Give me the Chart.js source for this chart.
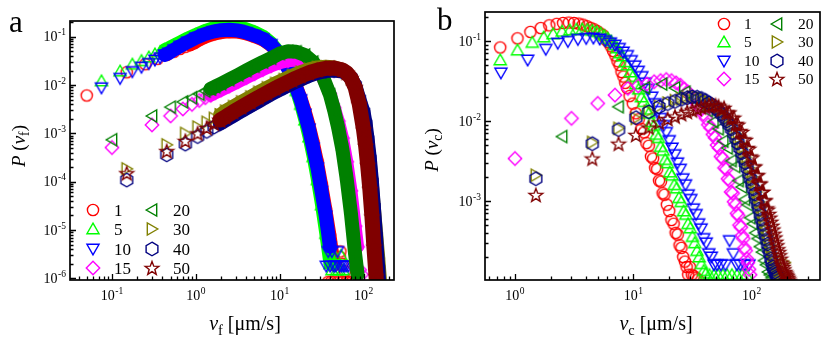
<!DOCTYPE html>
<html>
<head>
<meta charset="utf-8">
<script src="https://cdn.jsdelivr.net/npm/chart.js@4"></script>
<style>
  body { margin: 0; background: #fff; }
  #wrap { position: relative; width: 830px; height: 340px; font-family: "Liberation Serif", "Times New Roman", serif; color: #000; }
  canvas.panel { position: absolute; top: 0; }
  .txt { position: absolute; white-space: nowrap; line-height: 1; }
  .letter { font-size: 31px; }
  .ytitle { font-size: 19px; transform: translate(-50%, -50%) rotate(-90deg); }
  .xtitle { font-size: 20px; transform: translate(-50%, -50%); }
  sub { font-size: 72%; vertical-align: -0.32em; line-height: 0; }
  .lt { position: absolute; line-height: 1; transform: translateY(-50%); }
  .lm { position: absolute; }
</style>
</head>
<body>
<div id="wrap">
  <canvas id="chartA" class="panel" width="415" height="340" style="left:0"></canvas>
  <canvas id="chartB" class="panel" width="415" height="340" style="left:415px"></canvas>
  <div class="txt letter" style="left:9px;top:6px">a</div>
  <div class="txt letter" style="left:437px;top:4px">b</div>
  <div class="txt ytitle" style="left:18px;top:146px"><i>P</i> (<i>v</i><sub>f</sub>)</div>
  <div class="txt ytitle" style="left:431px;top:150px"><i>P</i> (<i>v</i><sub>c</sub>)</div>
  <div class="txt xtitle" style="left:245px;top:323px"><i>v</i><sub>f</sub> [μm/s]</div>
  <div class="txt xtitle" style="left:656px;top:323px"><i>v</i><sub>c</sub> [μm/s]</div>
  <div id="legA"></div>
  <div id="legB"></div>
</div>
<script>
// categories (legend labels)
const labels = ["1", "5", "10", "15", "20", "30", "40", "50"];

// tick label exponents
const expAx = [-1, 0, 1, 2];
const expAy = [-6, -5, -4, -3, -2, -1];
const expBx = [0, 1, 2];
const expBy = [-3, -2, -1];

// ---- panel a : P(v_f) ----
const vfR = [0.05, 0.15, 0.25, 0.35, 0.45, 0.55, 0.65, 0.75, 0.85, 0.95, 1.1, 1.25, 1.6, 2.0, 2.5, 3.2, 4.0, 5.0, 6.3, 7.9,
  10, 11.2, 12.6, 14.1, 15.8, 17.8, 20, 22.4, 25.1, 28.2, 31.6, 35.5, 39.8, 44.7];
const pf1 = [0.0061, 0.0184, 0.027, 0.035, 0.042, 0.049, 0.056, 0.062, 0.068, 0.074, 0.086, 0.096, 0.112, 0.122, 0.127,
  0.125, 0.115, 0.101, 0.086, 0.066, 0.043, 0.032, 0.0225, 0.015, 0.0095, 0.0056, 0.0030, 0.0015, 0.00066, 0.00026,
  0.000088, 0.000027, 0.0000078, 0.0000019];
const vfTail1 = [38, 41, 44, 47, 50, 52, 53, 56, 57, 60, 62, 67, 73, 80];
const pfTail1 = [8.5e-7, 8.5e-7, 8.5e-7, 2.0e-6, 8.5e-7, 2.8e-6, 3.6e-6, 2.0e-6, 8.5e-7, 1.4e-6, 8.5e-7, 8.5e-7, 8.5e-7, 8.5e-7];

const vfA = [0.075, 0.125, 0.175, 0.225, 0.275, 0.325, 0.375, 0.425, 0.475, 0.55, 0.65, 0.8, 1.0, 1.25, 1.6, 2.0, 2.5, 3.2,
  4.0, 5.0, 6.3, 7.9, 10, 11.2, 12.6, 14.1, 15.8, 17.8, 20, 22.4, 25.1, 28.2, 31.6, 35.5, 39.8];
const pf5 = [0.0122, 0.0195, 0.027, 0.032, 0.038, 0.044, 0.049, 0.054, 0.059, 0.067, 0.078, 0.094, 0.112, 0.132, 0.152,
  0.163, 0.167, 0.160, 0.146, 0.127, 0.104, 0.076, 0.046, 0.033, 0.0215, 0.0133, 0.0077, 0.0040, 0.0019, 0.00085, 0.00033,
  0.00011, 0.000033, 0.0000085, 0.0000020];
const vfTail5 = [42, 45, 48, 51, 54, 57];
const pfTail5 = [1.5e-6, 3.0e-6, 1.5e-6, 1.5e-6, 3.0e-6, 1.5e-6];
const pf10 = [0.0088, 0.0138, 0.019, 0.0235, 0.028, 0.033, 0.037, 0.042, 0.046, 0.054, 0.064, 0.078, 0.095, 0.112, 0.128,
  0.137, 0.140, 0.135, 0.122, 0.107, 0.091, 0.069, 0.0437, 0.032, 0.0219, 0.0142, 0.0087, 0.0050, 0.0025, 0.00123, 0.0005,
  0.000195, 0.000063, 0.0000195, 0.0000045];
const vfTail10 = [36, 38, 40, 42, 44, 46.5, 49, 52, 55, 58.5, 62, 66];
const pfTail10 = [1.8e-6, 3.6e-6, 1.8e-6, 3.6e-6, 1.8e-6, 1.8e-6, 3.6e-6, 1.8e-6, 1.8e-6, 1.8e-6, 1.8e-6, 1.8e-6];

const vfB = [0.1, 0.3, 0.5, 0.7, 0.9, 1.1, 1.3, 1.5, 1.7, 2.0, 2.5, 3.2, 4.0, 5.0, 6.3, 7.9, 10, 12.6, 15.8, 20, 25.1, 31.6,
  39.8, 44.7, 50.1, 56.2, 63.1, 70.8, 79.4, 85];
const pf15 = [0.00051, 0.0015, 0.0023, 0.0032, 0.0040, 0.0048, 0.0055, 0.0062, 0.0069, 0.0079, 0.0095, 0.0118, 0.0143,
  0.0172, 0.021, 0.025, 0.029, 0.032, 0.033, 0.031, 0.025, 0.016, 0.0066, 0.0034, 0.0018, 0.0008, 0.00026, 0.000065,
  0.000012, 0.0000045];
const vfTail15 = [90, 95];
const pfTail15 = [1.5e-6, 1.2e-6];
const pf20 = [0.00074, 0.0023, 0.0035, 0.0045, 0.0055, 0.0065, 0.0075, 0.0084, 0.0093, 0.0107, 0.0130, 0.0163, 0.0200,
  0.0245, 0.0300, 0.0360, 0.045, 0.050, 0.049, 0.042, 0.030, 0.0174, 0.0063, 0.0030, 0.00126, 0.00045, 0.000112, 0.000022,
  0.0000032, 0.0000012];

const vfC = [0.15, 0.45, 0.75, 1.05, 1.35, 1.65, 1.95, 2.25, 2.8, 3.5, 4.5, 5.6, 7.1, 8.9, 11.2, 14.1, 17.8, 22.4, 28.2,
  35.5, 44.7, 56.2, 63, 70.8, 79.4, 89, 100, 106, 112, 119, 126, 133, 141, 150, 158];
const pf30 = [0.000185, 0.00058, 0.0010, 0.00135, 0.0017, 0.00205, 0.0024, 0.0029, 0.0036, 0.0045, 0.0057, 0.0071, 0.0088,
  0.0108, 0.0130, 0.0157, 0.0185, 0.0212, 0.0232, 0.0240, 0.0232, 0.0205, 0.0180, 0.0143, 0.0095, 0.0046, 0.0024, 0.0013,
  0.0006, 0.00024, 0.000085, 0.000028, 0.000009, 0.0000026, 0.0000008];
const pf40 = [0.000108, 0.00036, 0.0006, 0.00086, 0.0011, 0.00135, 0.0016, 0.00185, 0.0023, 0.0029, 0.0037, 0.0046, 0.0058,
  0.0072, 0.0088, 0.0108, 0.0130, 0.0155, 0.0178, 0.0195, 0.0200, 0.0190, 0.0172, 0.0143, 0.0100, 0.0052, 0.0028, 0.0016,
  0.00075, 0.0003, 0.0001, 0.00003, 0.0000075, 0.0000016, 0.0000004];
const pf50 = [0.00015, 0.00043, 0.0007, 0.001, 0.0013, 0.0016, 0.0019, 0.0022, 0.0028, 0.0035, 0.0045, 0.0056, 0.0070,
  0.0086, 0.0105, 0.0128, 0.0153, 0.0180, 0.0205, 0.0222, 0.0225, 0.0205, 0.0180, 0.0140, 0.0090, 0.0040, 0.0012, 0.00055,
  0.00022, 0.00007, 0.000019, 0.0000045, 0.0000011, 0.0000003, 0.0000001];

// ---- panel b : P(v_c) ----
const vc1 = [0.75, 1.05, 1.35, 1.65, 1.95, 2.25, 2.55, 2.85, 3.15, 3.45, 3.75, 4.05, 4.35, 4.65, 4.95, 5.25, 5.55, 5.85,
  6.15, 6.45, 6.75, 7.05, 7.35, 7.65, 7.95, 8.25, 8.55, 8.85, 9.3, 9.9, 10.5, 11.1, 11.7, 12.3, 12.9, 13.5, 14.1, 14.7,
  15.3, 15.9, 16.5, 17.1, 17.7, 18.3, 19.2, 20.1, 21.0, 21.9, 22.8, 23.7, 24.6, 25.5, 26.4, 27.3, 28.2, 29.1, 30.0, 31.2,
  32.4, 33.6, 35.1];
const pc1 = [0.083, 0.108, 0.130, 0.145, 0.157, 0.164, 0.168, 0.170, 0.168, 0.165, 0.160, 0.153, 0.146, 0.140, 0.133,
  0.124, 0.118, 0.104, 0.097, 0.086, 0.075, 0.066, 0.056, 0.050, 0.041, 0.036, 0.030, 0.026, 0.0205, 0.0165, 0.0125,
  0.0105, 0.0080, 0.0072, 0.0053, 0.0049, 0.0036, 0.0034, 0.0026, 0.0025, 0.0018, 0.00175, 0.00125, 0.0012, 0.0009,
  0.00075, 0.00058, 0.00052, 0.0004, 0.00038, 0.00028, 0.00026, 0.0002, 0.000175, 0.00015, 0.00012, 0.00015, 0.00012,
  0.000115, 0.00011, 0.000105];

const vc5 = [0.75, 1.05, 1.4, 1.75, 2.1, 2.5, 2.9, 3.3, 3.7, 4.1, 4.5, 4.9, 5.3, 5.7, 6.1, 6.5, 6.9, 7.3, 7.7, 8.1, 8.5,
  8.9, 9.4, 9.9, 10.5, 11.1, 11.7, 12.3, 12.9, 13.5, 14.2, 14.9, 15.6, 16.3, 17.0, 17.8, 18.6, 19.4, 20.3, 21.2, 22.2,
  23.2, 24.3, 25.4, 26.6, 27.8, 29.0, 30.3, 31.6, 33.0, 34.5, 36.0, 37.6, 39.3, 41, 44, 48, 52, 57, 62, 68, 75, 83, 90];
const pc5 = [0.058, 0.077, 0.096, 0.112, 0.123, 0.132, 0.137, 0.140, 0.141, 0.139, 0.136, 0.131, 0.125, 0.117, 0.108,
  0.100, 0.090, 0.082, 0.071, 0.065, 0.055, 0.050, 0.041, 0.036, 0.029, 0.025, 0.020, 0.0175, 0.014, 0.0125, 0.0098,
  0.0088, 0.0068, 0.0062, 0.0048, 0.0043, 0.0033, 0.0030, 0.0023, 0.0021, 0.0016, 0.00145, 0.0011, 0.00098, 0.00075,
  0.00068, 0.00052, 0.00046, 0.00036, 0.0003, 0.00024, 0.0002, 0.000165, 0.000135, 0.000125, 0.00012, 0.00012, 0.00012,
  0.00012, 0.00012, 0.00012, 0.00012, 0.00012, 0.00012];

const vc10 = [0.76, 1.28, 1.82, 2.3, 2.8, 3.4, 4.0, 4.6, 5.2, 5.8, 6.4, 7.0, 7.6, 8.2, 8.9, 9.6, 10.3, 11.0, 11.8, 12.6,
  13.4, 14.3, 15.2, 16.1, 17.0, 18.0, 19.0, 20.1, 21.2, 22.4, 23.6, 24.9, 26.2, 27.6, 29.1, 30.6, 32.2, 33.9, 35.6, 37.4,
  39.3, 41.3, 43.4, 45.6, 48, 51, 55, 60, 65, 70, 75, 80, 87, 95];
const pc10 = [0.040, 0.058, 0.079, 0.094, 0.099, 0.105, 0.108, 0.109, 0.106, 0.101, 0.095, 0.089, 0.081, 0.073, 0.066,
  0.057, 0.049, 0.042, 0.036, 0.030, 0.025, 0.020, 0.0165, 0.0132, 0.0108, 0.0088, 0.0072, 0.0057, 0.0046, 0.0038, 0.0030,
  0.0025, 0.0019, 0.0016, 0.0012, 0.00105, 0.0008, 0.00068, 0.00052, 0.00045, 0.00034, 0.0003, 0.00022, 0.0002, 0.00016,
  0.00016, 0.00016, 0.00016, 0.00032, 0.00022, 0.00016, 0.00016, 0.00016, 0.00016];

const vc15 = [1, 3, 5, 7, 9, 11, 13, 15, 17, 19, 21, 23, 25, 27, 29, 31, 33, 35, 37, 39, 41, 43, 45, 47, 49, 51, 53, 55, 57,
  59, 61, 63, 65, 67, 69, 71, 73, 75, 77, 79, 81, 83, 85, 87, 89, 91, 93, 95, 97];
const pc15 = [0.0034, 0.0108, 0.0166, 0.0211, 0.0256, 0.0275, 0.029, 0.031, 0.032, 0.033, 0.032, 0.030, 0.028, 0.025,
  0.023, 0.020, 0.0178, 0.0158, 0.0140, 0.0122, 0.0108, 0.0090, 0.0082, 0.0068, 0.0062, 0.0050, 0.0046, 0.0036, 0.0034,
  0.0026, 0.0025, 0.0019, 0.0018, 0.0013, 0.00125, 0.00098, 0.0009, 0.0007, 0.00066, 0.0005, 0.00047, 0.00037, 0.00034,
  0.00026, 0.00024, 0.00019, 0.00017, 0.00014, 0.00012];

const vc20 = [2.5, 7.5, 12.5, 17.5, 22.5, 27.5, 32.5, 37.5, 42.5, 47.5, 52.5, 57.5, 62.5, 67.5, 72.5, 77.5, 82.5, 87.5,
  92.5, 97.5, 102.5, 107.5, 112.5, 117.5, 122.5, 127.5, 132.5, 137.5, 142.5, 147.5];
const pc20 = [0.0064, 0.0151, 0.026, 0.029, 0.026, 0.023, 0.019, 0.0165, 0.0135, 0.0098, 0.0080, 0.0056, 0.0046, 0.0032,
  0.0027, 0.0018, 0.0015, 0.00105, 0.0009, 0.00062, 0.00052, 0.0004, 0.00034, 0.00027, 0.00023, 0.00018, 0.00016, 0.00013,
  0.00012, 0.00011];

const vcC = [1.5, 4.5, 7.5, 10.5, 13.5, 16.5, 19.5, 22.5, 25.5, 28.5, 31.5, 34.5, 37.5, 40.5, 43.5, 46.5, 49.5, 52.5, 55.5,
  58.5, 61.5, 64.5, 67.5, 70.5, 73.5, 76.5, 79.5, 82.5, 85.5, 88.5, 91.5, 94.5, 97.5, 100.5, 103.5, 106.5, 109.5, 112.5,
  115.5, 118.5, 121.5, 124.5, 127.5, 130.5, 133.5, 136.5, 139.5, 142.5, 145.5, 148.5, 151.5, 154.5, 157.5, 160.5, 163.5,
  166.5, 169.5, 172.5, 175.5, 178.5, 181.5, 184.5, 187.5, 190.5, 193.5, 196.5, 199.5, 202.5, 205.5, 208.5];
const pc30 = [0.0021, 0.0054, 0.0081, 0.0108, 0.0132, 0.0152, 0.0168, 0.0180, 0.0189, 0.0196, 0.0200, 0.0199, 0.0194,
  0.0185, 0.0175, 0.0165, 0.0154, 0.0143, 0.0131, 0.0120, 0.0109, 0.0099, 0.0089, 0.0079, 0.0069, 0.0061, 0.0053, 0.0046,
  0.0040, 0.0035, 0.0030, 0.0026, 0.0023, 0.0020, 0.00172, 0.00149, 0.00129, 0.00112, 0.00097, 0.00084, 0.00073, 0.00064,
  0.00055, 0.00048, 0.00042, 0.00037, 0.00032, 0.00028, 0.00025, 0.00022, 0.0002, 0.00018, 0.00016, 0.00015, 0.00014,
  0.00013, 0.000125, 0.00012, 0.000115, 0.00011, 0.00011, 0.00011, 0.000105, 0.00017];
const pc40 = [0.0019, 0.0052, 0.0078, 0.0110, 0.0130, 0.0150, 0.0165, 0.0176, 0.0187, 0.0195, 0.0200, 0.0198, 0.0191,
  0.0180, 0.0168, 0.0157, 0.0146, 0.0134, 0.0122, 0.0111, 0.0100, 0.0090, 0.0080, 0.0070, 0.0061, 0.0053, 0.0046, 0.0040,
  0.0034, 0.0030, 0.0026, 0.0022, 0.0019, 0.00165, 0.00142, 0.00122, 0.00105, 0.00091, 0.00079, 0.00068, 0.00059, 0.00051,
  0.00044, 0.00038, 0.00033, 0.00029, 0.00025, 0.00022, 0.00019, 0.00017, 0.00015, 0.00014, 0.00013, 0.000122, 0.000115,
  0.00011];
const pc50 = [0.00119, 0.0034, 0.0052, 0.0067, 0.0083, 0.0096, 0.0106, 0.0114, 0.0122, 0.0130, 0.0136, 0.0142, 0.0148,
  0.0152, 0.0156, 0.0158, 0.0157, 0.0153, 0.0140, 0.0146, 0.0128, 0.0128, 0.0110, 0.0110, 0.0092, 0.0090, 0.0075, 0.0073,
  0.0059, 0.0058, 0.0046, 0.0045, 0.0036, 0.0035, 0.0027, 0.0027, 0.0021, 0.0021, 0.00165, 0.00165, 0.0013, 0.0013,
  0.00102, 0.00102, 0.00081, 0.00078, 0.00069, 0.00062, 0.00055, 0.00049, 0.00044, 0.00039, 0.00035, 0.00031, 0.00028,
  0.00025, 0.00023, 0.00021, 0.00019, 0.00017, 0.00016, 0.00015, 0.00014, 0.00013, 0.000125, 0.00012, 0.000115, 0.00011,
  0.000105, 0.0001];

// ---- styles ----
const colors = ["#ff0000", "#00ff00", "#0000ff", "#ff00ff", "#008000", "#808000", "#000080", "#800000"];
const shapes = ["circle", "up", "down", "diamond", "left", "right", "hex", "star"];
const bandWidth = [13, 13, 14, 13, 14, 14, 14, 15];

function makeMarker(shape, color) {
  const n = 18;
  const c = document.createElement("canvas");
  c.width = n; c.height = n;
  const g = c.getContext("2d");
  g.translate(n / 2, n / 2);
  g.strokeStyle = color;
  g.lineWidth = 1.4;
  const ring = (r, count, rot) => {
    const p = [];
    for (let i = 0; i < count; i++) {
      const t = rot + i * 2 * Math.PI / count;
      p.push([r * Math.cos(t), r * Math.sin(t)]);
    }
    return p;
  };
  let pts = null;
  if (shape === "circle") { g.beginPath(); g.arc(0, 0, 5.6, 0, 2 * Math.PI); }
  else if (shape === "diamond") pts = ring(6.7, 4, -Math.PI / 2);
  else if (shape === "up") pts = ring(7, 3, -Math.PI / 2).map(([a, b]) => [a, b + 1.2]);
  else if (shape === "down") pts = ring(7, 3, Math.PI / 2).map(([a, b]) => [a, b - 1.2]);
  else if (shape === "left") pts = ring(7, 3, Math.PI).map(([a, b]) => [a + 1.2, b]);
  else if (shape === "right") pts = ring(7, 3, 0).map(([a, b]) => [a - 1.2, b]);
  else if (shape === "hex") pts = ring(6.8, 6, -Math.PI / 2);
  else if (shape === "star") {
    pts = [];
    for (let i = 0; i < 10; i++) {
      const r = i % 2 ? 3.0 : 7.2, t = -Math.PI / 2 + i * Math.PI / 5;
      pts.push([r * Math.cos(t), r * Math.sin(t) + 0.6]);
    }
  }
  if (pts) {
    g.beginPath();
    pts.forEach(([a, b], i) => i ? g.lineTo(a, b) : g.moveTo(a, b));
    g.closePath();
  }
  g.stroke();
  return c;
}
const marks = shapes.map((s, i) => makeMarker(s, colors[i]));

const zip = (xs, ys) => ys.map((y, i) => ({ x: xs[i], y }));

// ---- axes / frame drawn from the scales ----
function logTicks(min, max) {
  const out = [];
  for (let e = Math.floor(Math.log10(min)); e <= Math.ceil(Math.log10(max)); e++) {
    for (let m = 1; m < 10; m++) {
      const v = m * Math.pow(10, e);
      if (v >= min && v <= max) out.push({ v, major: m === 1 });
    }
  }
  return out;
}
function powLabel(ctx, e, x, y, align) {
  const base = "10", exp = String(e);
  ctx.font = "14px 'Liberation Serif', serif";
  const wb = ctx.measureText(base).width;
  ctx.font = "9.5px 'Liberation Serif', serif";
  const we = ctx.measureText(exp).width + 0.5;
  const x0 = align === "center" ? x - (wb + we) / 2 : x - wb - we;
  ctx.textBaseline = "middle";
  ctx.textAlign = "left";
  ctx.font = "14px 'Liberation Serif', serif";
  ctx.fillText(base, x0, y);
  ctx.font = "9.5px 'Liberation Serif', serif";
  ctx.fillText(exp, x0 + wb + 0.5, y - 5);
}
function axesPlugin(expX, expY) {
  return {
    id: "axes",
    afterDraw(chart) {
      const { ctx, chartArea: a, scales: { x, y } } = chart;
      ctx.save();
      ctx.strokeStyle = "#000";
      ctx.fillStyle = "#000";
      ctx.lineWidth = 1.3;
      ctx.beginPath();
      logTicks(x.min, x.max).forEach(t => {
        const px = Math.round(x.getPixelForValue(t.v)) + 0.5;
        ctx.moveTo(px, a.bottom);
        ctx.lineTo(px, a.bottom - (t.major ? 6 : 3.5));
      });
      logTicks(y.min, y.max).forEach(t => {
        const py = Math.round(y.getPixelForValue(t.v)) + 0.5;
        ctx.moveTo(a.left, py);
        ctx.lineTo(a.left + (t.major ? 6 : 3.5), py);
      });
      ctx.stroke();
      ctx.lineWidth = 1.7;
      ctx.strokeRect(a.left, a.top, a.right - a.left, a.bottom - a.top);
      expX.forEach(e => powLabel(ctx, e, x.getPixelForValue(Math.pow(10, e)), a.bottom + 16, "center"));
      expY.forEach(e => powLabel(ctx, e, a.left - 4, y.getPixelForValue(Math.pow(10, e)) + 1, "right"));
      ctx.restore();
    }
  };
}

function baseOptions(xr, yr) {
  return {
    responsive: false,
    animation: false,
    devicePixelRatio: 1,
    events: [],
    layout: { padding: { left: 70, right: 10, top: 12, bottom: 60 } },
    plugins: { legend: { display: false }, tooltip: { enabled: false } },
    scales: {
      x: { type: "logarithmic", min: xr[0], max: xr[1], display: false },
      y: { type: "logarithmic", min: yr[0], max: yr[1], display: false }
    }
  };
}

function pointSet(data, k, order) {
  return { data, pointStyle: marks[k], pointRadius: 6, showLine: false, clip: 0, order };
}

// panel a: sparse head markers, a dense band, then the sparse tail
const seriesA = [
  { x: vfR, y: pf1, band: 9, tx: vfTail1, ty: pfTail1 },
  { x: vfA, y: pf5, band: 8, tx: vfTail5, ty: pfTail5 },
  { x: vfA, y: pf10, band: 8, tx: vfTail10, ty: pfTail10 },
  { x: vfB, y: pf15, band: 8, tx: vfTail15, ty: pfTail15 },
  { x: vfB, y: pf20, band: 8, tx: [], ty: [] },
  { x: vfC, y: pf30, band: 7, tx: [], ty: [] },
  { x: vfC, y: pf40, band: 7, tx: [], ty: [] },
  { x: vfC, y: pf50, band: 7, tx: [], ty: [] }
];
const dsA = [];
seriesA.forEach((s, k) => {
  const pts = zip(s.x, s.y);
  const order = 20 - k;
  dsA.push(pointSet(pts.slice(0, s.band), k, order));
  dsA.push(Object.assign(pointSet(pts.slice(s.band - 1), k, order), {
    showLine: true, borderColor: colors[k], borderWidth: bandWidth[k],
    borderJoinStyle: "round", borderCapStyle: "round"
  }));
  dsA.push(pointSet(zip(s.tx, s.ty), k, order));
});

new Chart(document.getElementById("chartA"), {
  type: "scatter",
  data: { datasets: dsA },
  options: baseOptions([0.0316, 231], [9.25e-7, 0.212]),
  plugins: [axesPlugin(expAx, expAy)]
});

const seriesB = [[vc1, pc1], [vc5, pc5], [vc10, pc10], [vc15, pc15], [vc20, pc20], [vcC, pc30], [vcC, pc40], [vcC, pc50]];
new Chart(document.getElementById("chartB"), {
  type: "scatter",
  data: { datasets: seriesB.map(([xs, ys], k) => pointSet(zip(xs, ys), k, 20 - k)) },
  options: baseOptions([0.558, 378], [1.03e-4, 0.2305]),
  plugins: [axesPlugin(expBx, expBy)]
});

// ---- legends (html, inside the plot areas) ----
function legend(el, rows, mx, tx, size) {
  labels.forEach((lab, k) => {
    const col = k < 4 ? 0 : 1, row = k % 4;
    const m = makeMarker(shapes[k], colors[k]);
    m.className = "lm";
    m.style.left = (mx[col] - 9) + "px";
    m.style.top = (rows[row] - 9) + "px";
    el.appendChild(m);
    const t = document.createElement("div");
    t.className = "lt";
    t.style.left = tx[col] + "px";
    t.style.top = rows[row] + "px";
    t.style.fontSize = size + "px";
    t.textContent = lab;
    el.appendChild(t);
  });
}
legend(document.getElementById("legA"), [210, 229.3, 248.5, 267.7], [93.3, 151.7], [114, 173], 17);
legend(document.getElementById("legB"), [24, 42.3, 60.5, 78.5], [724.3, 776.7], [744, 798], 15.5);
</script>
</body>
</html>
